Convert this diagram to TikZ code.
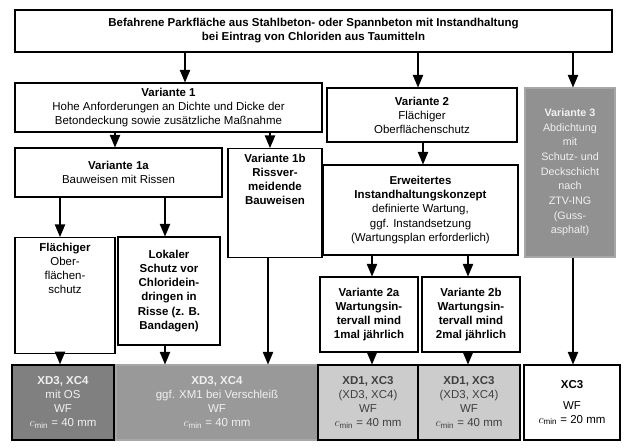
\documentclass[tikz,border=0pt]{standalone}
\usepackage{fontspec}
\setmainfont{Liberation Sans}
\usepackage{tikz}
\usetikzlibrary{arrows,positioning}

\definecolor{grauA}{gray}{0.50}
\definecolor{grauB}{gray}{0.60}
\definecolor{grauC}{gray}{0.80}
\definecolor{grauV}{gray}{0.57}

\begin{document}
\begin{tikzpicture}[x=0.3mm,y=-0.3mm,
  every node/.style={draw,line width=0.9pt,align=center,inner sep=1pt,
    font=\fontsize{9.8}{12}\selectfont},
  box/.style 2 args={minimum width=#1*0.3mm,minimum height=#2*0.3mm},
  grau/.style={fill=#1,text=gray!12},
  pfeil/.style={-triangle 45,line width=1.5pt}]
\useasboundingbox (0,0) rectangle (630,448);
%
\node (top) [box={597}{42},line width=1.2pt] at (313.5,31)
  {\textbf{Befahrene Parkfläche aus Stahlbeton- oder Spannbeton mit Instandhaltung}\\
   \textbf{bei Eintrag von Chloriden aus Taumitteln}};
%
\node (v1) [box={307}{49}] at (168.5,107.5)
  {\textbf{Variante 1}\\Hohe Anforderungen an Dichte und Dicke der\\Betondeckung sowie zusätzliche Maßnahme};
\node (v2) [box={190}{54}] at (422,115)
  {\textbf{Variante 2}\\Flächiger\\Oberflächenschutz};
\node (v3) [box={90}{169},grau=grauV,draw=gray!70,font=\fontsize{9.2}{12.5}\selectfont] at (570,172.5)
  {\textbf{Variante 3}\\Abdichtung\\mit\\Schutz- und\\Deckschicht\\nach\\ZTV-ING\\(Guss-\\asphalt)};
%
\node (v1a) [box={207}{49}] at (118.5,172.5)
  {\textbf{Variante 1a}\\Bauweisen mit Rissen};
\node (v1b) [anchor=north,minimum width=94*0.3mm,inner ysep=5pt,text depth=14mm] at (275,148)
  {\textbf{Variante 1b}\\\textbf{Rissver-}\\\textbf{meidende}\\\textbf{Bauweisen}};
%
\node (flaech) [anchor=north,minimum width=100*0.3mm,inner ysep=5pt,text depth=16mm] at (65,237)
  {\textbf{Flächiger}\\Ober-\\flächen-\\schutz};
\node (lokal) [box={102}{108}] at (169,291)
  {\textbf{Lokaler}\\\textbf{Schutz vor}\\\textbf{Chloridein-}\\\textbf{dringen in}\\\textbf{Risse (z. B.}\\\textbf{Bandagen)}};
%
\node (erw) [box={195}{90}] at (420.5,210)
  {\textbf{Erweitertes}\\\textbf{Instandhaltungskonzept}\\definierte Wartung,\\ggf. Instandsetzung\\(Wartungsplan erforderlich)};
\node (v2a) [box={98}{75}] at (369,314.5)
  {\textbf{Variante 2a}\\\textbf{Wartungsin-}\\\textbf{tervall mind}\\\textbf{1mal jährlich}};
\node (v2b) [box={98}{75}] at (471,314.5)
  {\textbf{Variante 2b}\\\textbf{Wartungsin-}\\\textbf{tervall mind}\\\textbf{2mal jährlich}};
%
\node (ba) [box={102}{75},grau=grauA,line width=1.4pt] at (63,402.5)
  {\textbf{XD3, XC4}\\mit OS\\WF\\$c_{\min}$ = 40 mm};
\node (bb) [box={202}{75},grau=grauB,draw=gray!70] at (217,402.5)
  {\textbf{XD3, XC4}\\ggf. XM1 bei Verschleiß\\WF\\$c_{\min}$ = 40 mm};
\node (b2a) [box={100}{75},grau=grauC,text=black!75] at (368,402.5)
  {\textbf{XD1, XC3}\\(XD3, XC4)\\WF\\$c_{\min}$ = 40 mm};
\node (b2b) [box={102}{75},grau=grauC,text=black!75] at (469,402.5)
  {\textbf{XD1, XC3}\\(XD3, XC4)\\WF\\$c_{\min}$ = 40 mm};
\node (bxc) [box={96}{75}] at (572,402.5)
  {\textbf{XC3}\\[6pt]WF\\$c_{\mathrm{min}}$ = 20 mm};
%
\draw[pfeil] (top.south -| 185,0) -- (v1.north -| 185,0);
\draw[pfeil] (top.south -| 418,0) -- (v2.north -| 418,0);
\draw[pfeil] (top.south -| 573,0) -- (v3.north -| 573,0);
%
\draw[pfeil] (v1.south -| 115,0) -- (v1a.north -| 115,0);
\draw[pfeil] (v1.south -| 270,0) -- (v1b.north -| 270,0);
\draw[pfeil] (v2.south -| 423,0) -- (erw.north -| 423,0);
%
\draw[pfeil] (v1a.south -| 60,0) -- (flaech.north -| 60,0);
\draw[pfeil] (v1a.south -| 165,0) -- (lokal.north -| 165,0);
\draw[pfeil] (erw.south -| 372,0) -- (v2a.north -| 372,0);
\draw[pfeil] (erw.south -| 468,0) -- (v2b.north -| 468,0);
%
\draw[pfeil] (flaech.south -| 60,0) -- (ba.north -| 60,0);
\draw[pfeil] (lokal.south -| 165,0) -- (bb.north -| 165,0);
\draw[pfeil] (v1b.south -| 268,0) -- (bb.north -| 268,0);
\draw[pfeil] (v2a.south -| 372,0) -- (b2a.north -| 372,0);
\draw[pfeil] (v2b.south -| 468,0) -- (b2b.north -| 468,0);
\draw[pfeil] (v3.south -| 573,0) -- (bxc.north -| 573,0);
%
\end{tikzpicture}
\end{document}
